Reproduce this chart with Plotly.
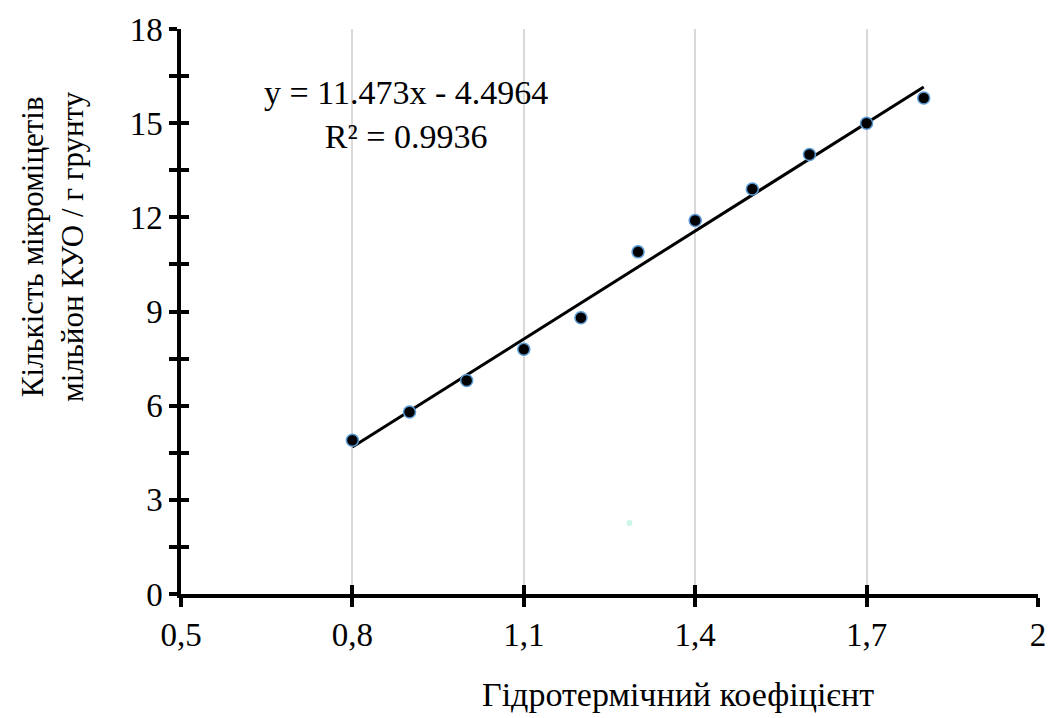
import numpy as np
import plotly.graph_objects as go

htc = [0.8, 0.9, 1.0, 1.1, 1.2, 1.3, 1.4, 1.5, 1.6, 1.7, 1.8]
micro = [4.9, 5.8, 6.8, 7.8, 8.8, 10.9, 11.9, 12.9, 14.0, 15.0, 15.8]
x_ticks = [0.5, 0.8, 1.1, 1.4, 1.7, 2.0]
x_labels = ["0,5", "0,8", "1,1", "1,4", "1,7", "2"]
y_ticks = [0, 1.5, 3, 4.5, 6, 7.5, 9, 10.5, 12, 13.5, 15, 16.5, 18]
y_labels = ["0", "", "3", "", "6", "", "9", "", "12", "", "15", "", "18"]
eq_text = "y = 11.473x - 4.4964<br>R² = 0.9936"
x_title = "Гідротермічний коефіцієнт"
y_title = "Кількість мікроміцетів<br>мільйон КУО / г грунту"

slope, intercept = np.polyfit(htc, micro, 1)
fit_x = np.array([min(htc), max(htc)])
fit_y = slope * fit_x + intercept

FONT = "Liberation Serif"
FS = 33
fig = go.Figure()
fig.add_trace(go.Scatter(x=fit_x, y=fit_y, mode="lines", line=dict(color="black", width=3),
                         showlegend=False))
fig.add_trace(go.Scatter(x=htc, y=micro, mode="markers", showlegend=False,
                         marker=dict(color="black", size=12, line=dict(color="#5b9bd5", width=1.5))))
fig.add_trace(go.Scatter(x=[0.5], y=[0], xaxis="x2", yaxis="y2", mode="markers", name=" ",
                         showlegend=True, marker=dict(opacity=0)))

fig.update_layout(
    width=1058, height=718,
    margin=dict(l=181, r=15, t=23, b=124),
    paper_bgcolor="white", plot_bgcolor="white",
    showlegend=True,
    legend=dict(x=0.5, y=0.1, xanchor="left", yanchor="bottom", bgcolor="rgba(0,0,0,0)",
                font=dict(size=10, color="rgba(0,0,0,0)")),
    xaxis=dict(range=[0.5, 2.0], tickvals=x_ticks, ticktext=x_labels,
               showgrid=True, gridcolor="#d9d9d9", gridwidth=1.5,
               showline=True, linecolor="black", linewidth=3.5,
               ticks="outside", ticklen=9, tickwidth=3.5, tickcolor="black",
               zeroline=False,
               tickfont=dict(family=FONT, size=FS, color="black")),
    yaxis=dict(range=[0, 18], tickvals=y_ticks, ticktext=y_labels,
               showgrid=False, showline=True, linecolor="black", linewidth=3.5,
               ticks="outside", ticklen=8, tickwidth=3.5, tickcolor="black",
               zeroline=False, ticksuffix="   ",
               tickfont=dict(family=FONT, size=FS, color="black")),
    xaxis2=dict(range=[0.5, 2.0], overlaying="x", anchor="y2",
                tickvals=x_ticks, showticklabels=False,
                showgrid=False, showline=False, zeroline=False,
                ticks="inside", ticklen=9, tickwidth=3.5, tickcolor="black"),
    yaxis2=dict(range=[0, 18], overlaying="y", anchor="x2",
                tickvals=y_ticks, showticklabels=False,
                showgrid=False, showline=False, zeroline=False,
                ticks="inside", ticklen=8, tickwidth=3.5, tickcolor="black"),
    annotations=[
        dict(text=eq_text, xref="paper", yref="paper", x=0.263, y=0.848, showarrow=False,
             font=dict(family=FONT, size=34, color="black"), align="center", xanchor="center", yanchor="middle"),
        dict(text=x_title, xref="paper", yref="paper", x=0.58, y=-0.178, showarrow=False,
             font=dict(family=FONT, size=34, color="black"), xanchor="center", yanchor="middle"),
        dict(text=y_title, xref="paper", yref="paper", x=-0.15, y=0.615, showarrow=False,
             textangle=-90, font=dict(family=FONT, size=31, color="black"), align="center",
             xanchor="center", yanchor="middle"),
    ],
)
fig.write_html("out.html")
